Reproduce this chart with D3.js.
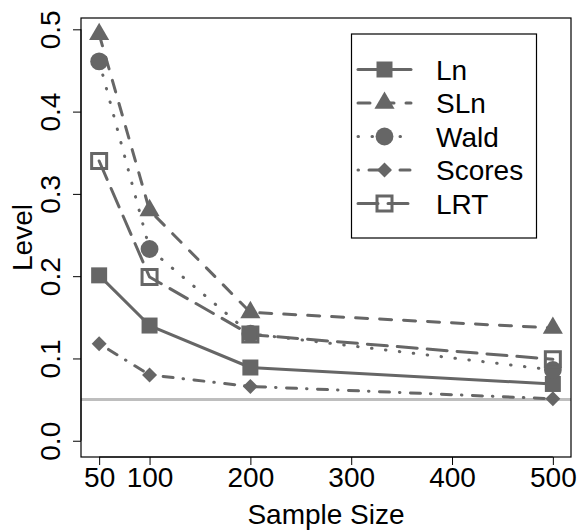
<!DOCTYPE html>
<html><head><meta charset="utf-8">
<script src="https://cdn.jsdelivr.net/npm/d3@7"></script>
<style>
html,body{margin:0;padding:0;background:#fff;}
svg{display:block;font-family:"Liberation Sans",Arial,sans-serif;}
</style></head>
<body>
<svg id="chart" width="581" height="532"></svg>
<script>
// ---- data ----
const sampleSizes = [50, 100, 200, 500];
const seriesNames = ["Ln", "SLn", "Wald", "Scores", "LRT"];
const lnValues     = [0.201, 0.140, 0.089, 0.069];
const slnValues    = [0.494, 0.280, 0.156, 0.137];
const waldValues   = [0.461, 0.233, 0.130, 0.086];
const scoresValues = [0.118, 0.080, 0.066, 0.051];
const lrtValues    = [0.340, 0.199, 0.129, 0.099];
const nominalLevel = 0.05;
const xTicks = [50, 100, 200, 300, 400, 500];
const yTicks = [0.0, 0.1, 0.2, 0.3, 0.4, 0.5];
const yTickLabels = ["0.0", "0.1", "0.2", "0.3", "0.4", "0.5"];

const series = [
  {name: seriesNames[0], values: lnValues,     dash: null,        marker: "square"},
  {name: seriesNames[1], values: slnValues,    dash: "12,12",     marker: "triangle"},
  {name: seriesNames[2], values: waldValues,   dash: "0.5,13.5",  marker: "circle"},
  {name: seriesNames[3], values: scoresValues, dash: "0.5,10.5,10,10", marker: "diamond"},
  {name: seriesNames[4], values: lrtValues,    dash: "20,10",     marker: "hollowSquare"}
];

const col = "#666666";
const lw = 3;
const svg = d3.select("#chart");
const L = 81, R = 571, T = 18, B = 457;

// R-style 4% padding
const xmin = d3.min(sampleSizes), xmax = d3.max(sampleSizes);
const allY = [].concat(lnValues, slnValues, waldValues, scoresValues, lrtValues);
const ymin = 0, ymax = d3.max(allY);
const xp = 0.04 * (xmax - xmin), yp = 0.04 * (ymax - ymin);
const x = d3.scaleLinear().domain([xmin - xp, xmax + xp]).range([L, R]);
const y = d3.scaleLinear().domain([ymin - yp, ymax + yp]).range([B, T]);

// reference line
svg.append("line")
  .attr("x1", L).attr("x2", R)
  .attr("y1", y(nominalLevel)).attr("y2", y(nominalLevel))
  .attr("stroke", "#bebebe").attr("stroke-width", 3);

// lines
const lineGen = d3.line().x((d, i) => x(sampleSizes[i])).y(d => y(d));
series.forEach(s => {
  svg.append("path")
    .attr("d", lineGen(s.values))
    .attr("fill", "none")
    .attr("stroke", col)
    .attr("stroke-width", lw)
    .attr("stroke-linecap", "round")
    .attr("stroke-linejoin", "round")
    .attr("stroke-dasharray", s.dash);
});

function drawMarker(g, type, cx, cy) {
  if (type === "square") {
    g.append("path").attr("d", d3.symbol(d3.symbolSquare, 256)())
      .attr("transform", `translate(${cx},${cy})`).attr("fill", col);
  } else if (type === "triangle") {
    g.append("path").attr("d", d3.symbol(d3.symbolTriangle, 175)())
      .attr("transform", `translate(${cx},${cy})`).attr("fill", col);
  } else if (type === "circle") {
    g.append("path").attr("d", d3.symbol(d3.symbolCircle, 250)())
      .attr("transform", `translate(${cx},${cy})`).attr("fill", col);
  } else if (type === "diamond") {
    g.append("path").attr("d", d3.symbol(d3.symbolSquare, 112)())
      .attr("transform", `translate(${cx},${cy}) rotate(45)`).attr("fill", col);
  } else if (type === "hollowSquare") {
    g.append("path").attr("d", d3.symbol(d3.symbolSquare, 225)())
      .attr("transform", `translate(${cx},${cy})`)
      .attr("fill", "none").attr("stroke", col).attr("stroke-width", lw);
  }
}

// markers
const mg = svg.append("g");
series.forEach(s => {
  s.values.forEach((v, i) => drawMarker(mg, s.marker, x(sampleSizes[i]), y(v)));
});

// plot box
svg.append("rect").attr("x", L).attr("y", T).attr("width", R - L).attr("height", B - T)
  .attr("fill", "none").attr("stroke", "#000").attr("stroke-width", 1.2);

// x axis
const xAxis = d3.axisBottom(x).tickValues(xTicks).tickSize(8).tickPadding(0).tickFormat(d3.format("d"));
const gx = svg.append("g").attr("transform", `translate(0,${B})`).call(xAxis);
gx.select(".domain").attr("d", `M${x(xTicks[0])},0H${x(xTicks[xTicks.length-1])}`).attr("stroke", "#000");
gx.selectAll(".tick line").attr("stroke", "#000");
gx.selectAll(".tick text").attr("y", 30).attr("dy", null)
  .attr("font-size", 28).attr("fill", "#000").attr("font-family", "Liberation Sans, Arial, sans-serif");

// y axis
const yAxis = d3.axisLeft(y).tickValues(yTicks).tickSize(8).tickFormat((d, i) => yTickLabels[i]);
const gy = svg.append("g").attr("transform", `translate(${L},0)`).call(yAxis);
gy.select(".domain").attr("d", `M0,${y(yTicks[0])}V${y(yTicks[yTicks.length-1])}`).attr("stroke", "#000");
gy.selectAll(".tick line").attr("stroke", "#000");
gy.selectAll(".tick text")
  .attr("x", null).attr("dy", null)
  .attr("transform", "translate(-21,0) rotate(-90)")
  .attr("text-anchor", "middle")
  .attr("font-size", 28).attr("fill", "#000").attr("font-family", "Liberation Sans, Arial, sans-serif");

// axis titles
svg.append("text").attr("x", (L + R) / 2).attr("y", 524)
  .attr("text-anchor", "middle").attr("font-size", 28).text("Sample Size");
svg.append("text").attr("transform", `translate(31.5,${(T + B) / 2}) rotate(-90)`)
  .attr("text-anchor", "middle").attr("font-size", 28).text("Level");

// legend
const lg = svg.append("g");
lg.append("rect").attr("x", 351.5).attr("y", 34).attr("width", 185).attr("height", 204)
  .attr("fill", "#fff").attr("stroke", "#000").attr("stroke-width", 1.2);
series.forEach((s, i) => {
  const cy = 69.5 + i * 33.5;
  lg.append("line").attr("x1", 358).attr("x2", 411).attr("y1", cy).attr("y2", cy)
    .attr("stroke", col).attr("stroke-width", lw).attr("stroke-linecap", "round")
    .attr("stroke-dasharray", s.dash);
  drawMarker(lg, s.marker, 384.5, cy);
  lg.append("text").attr("x", 436).attr("y", cy + 10).attr("font-size", 28)
    .attr("fill", "#000").text(s.name);
});
</script>
</body></html>
